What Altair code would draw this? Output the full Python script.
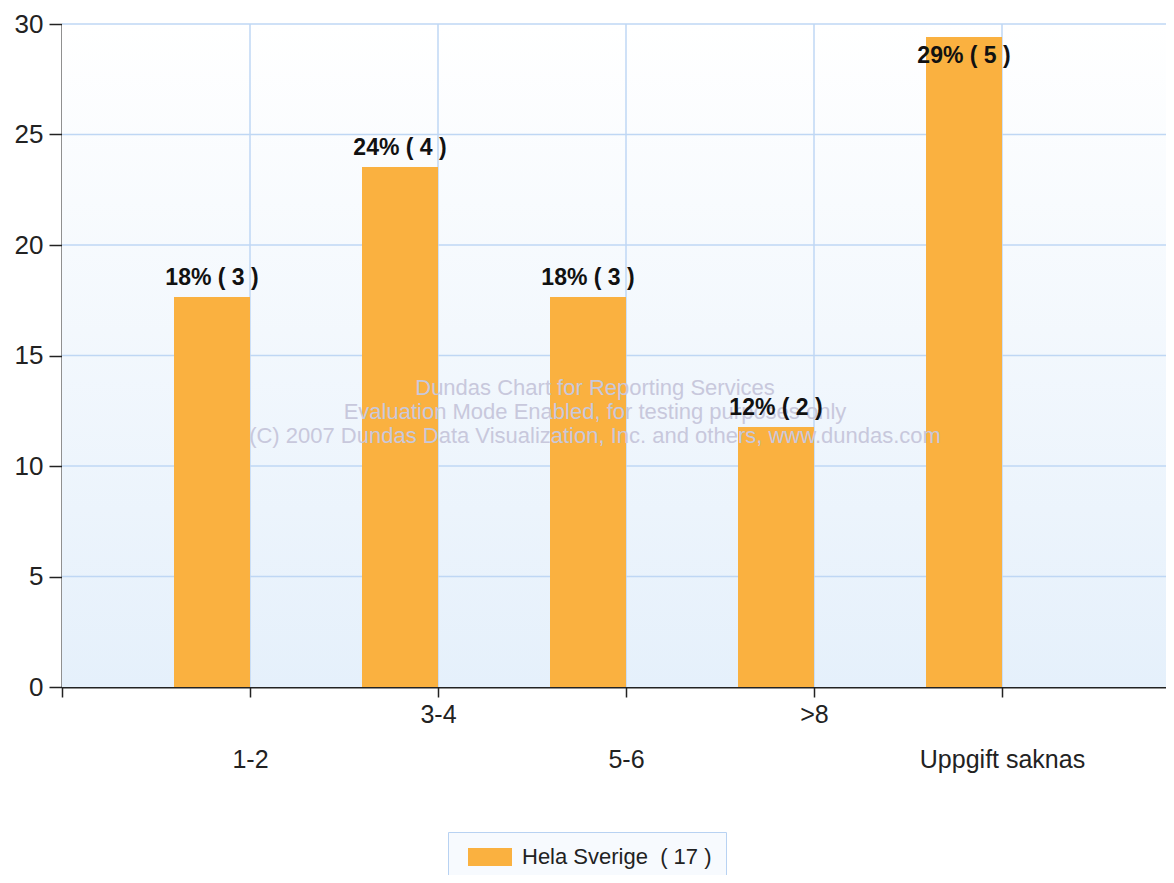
import json
import altair as alt
import pandas as pd

# ---- data ----
categories = ["1-2", "3-4", "5-6", ">8", "Uppgift saknas"]
percents = [17.65, 23.53, 17.65, 11.76, 29.41]
counts = [3, 4, 3, 2, 5]
pct_text = ["18%", "24%", "18%", "12%", "29%"]
series_name = "Hela Sverige\u00a0\u00a0( 17 )\u00a0\u00a0\u00a0"
y_ticks = [0, 5, 10, 15, 20, 25, 30]
watermark = [
    "Dundas Chart for Reporting Services",
    "Evaluation Mode Enabled, for testing purposes only",
    "(C) 2007 Dundas Data Visualization, Inc. and others, www.dundas.com",
]

# ---- layout / style ----
W, H = 1104, 663
STEP = 188.0            # pixel spacing between categories
BAR_W = 76.0 / STEP     # bar width in category units
FONT = "Liberation Sans"
BAR_COLOR = "#FAB140"
GRID_COLOR = "#BFD7F4"
AXIS_COLOR = "#222222"

df = pd.DataFrame({
    "category": categories,
    "pos": list(range(1, len(categories) + 1)),
    "value": percents,
    "label": [f"{p} ( {c} )" for p, c in zip(pct_text, counts)],
    "series": [series_name] * len(categories),
})

x_scale = alt.Scale(domain=[0, W / STEP], nice=False, zero=True)
y_scale = alt.Scale(domain=[0, 30], nice=False)

label_expr = f"datum.value >= 1 ? {json.dumps(categories)}[datum.value - 1] : ''"

x_axis = alt.Axis(
    values=list(range(0, len(categories) + 1)),
    labelExpr=label_expr,
    title=None,
    grid=False,
    domainColor=AXIS_COLOR,
    domainWidth=2,
    tickColor=AXIS_COLOR,
    tickWidth=1.5,
    tickSize=10,
    labelFont=FONT,
    labelFontSize=25,
    labelColor=AXIS_COLOR,
    labelPadding={"condition": {"test": "datum.value % 2 == 1", "value": 50}, "value": 5},
    labelFlush=False,
    labelOverlap=False,
)
y_axis = alt.Axis(
    values=y_ticks,
    title=None,
    grid=False,
    domainColor=AXIS_COLOR,
    domainWidth=2,
    tickColor=AXIS_COLOR,
    tickWidth=1.5,
    tickSize=13,
    labelFont=FONT,
    labelFontSize=26,
    labelColor=AXIS_COLOR,
    labelPadding=6,
)

# background gradient
bg = alt.Chart(alt.Data(values=[{"a": 1}])).mark_rect(
    fill={
        "gradient": "linear", "x1": 0, "y1": 0, "x2": 0, "y2": 1,
        "stops": [{"offset": 0, "color": "#FFFFFF"}, {"offset": 1, "color": "#E5F0FB"}],
    }
).encode(x=alt.value(0), x2=alt.value(W), y=alt.value(0), y2=alt.value(H))

hgrid = alt.Chart(pd.DataFrame({"t": y_ticks[1:]})).mark_rule(
    color=GRID_COLOR, strokeWidth=1.5
).encode(y=alt.Y("t:Q", scale=y_scale, axis=y_axis))

vgrid = alt.Chart(pd.DataFrame({"p": df["pos"]})).mark_rule(
    color=GRID_COLOR, strokeWidth=1.5
).encode(x=alt.X("p:Q", scale=x_scale, axis=x_axis))

base = alt.Chart(df).transform_calculate(
    start=f"datum.pos - {BAR_W}",
    mid=f"datum.pos - {BAR_W / 2}",
)

bars = base.mark_bar().encode(
    x=alt.X("start:Q", scale=x_scale, axis=x_axis),
    x2="pos:Q",
    y=alt.Y("value:Q", scale=y_scale, axis=y_axis),
    y2=alt.datum(0),
    color=alt.Color(
        "series:N",
        scale=alt.Scale(range=[BAR_COLOR]),
        legend=alt.Legend(
            title=None,
            orient="none",
            legendX=386,
            legendY=808,
            padding=14,
            strokeColor="#B8D2F2",
            fillColor="#F7FAFE",
            symbolType="M-0.4545,-0.818L3.545,-0.818L3.545,0.818L-0.4545,0.818Z",
            symbolSize=484,
            symbolStrokeWidth=0,
            symbolOpacity=1,
            labelOffset=38,
            labelFont=FONT,
            labelFontSize=22,
            labelColor=AXIS_COLOR,
            labelLimit=400,
        ),
    ),
)

label_kw = dict(font=FONT, fontWeight="bold", fontSize=23, baseline="alphabetic", color="#111111")
label_enc = dict(
    x=alt.X("mid:Q", scale=x_scale),
    y=alt.Y("value:Q", scale=y_scale),
    text="label:N",
)
labels_above = base.transform_filter("datum.value <= 27").mark_text(dy=-12, **label_kw).encode(**label_enc)
labels_inside = base.transform_filter("datum.value > 27").mark_text(dy=26, **label_kw).encode(**label_enc)

wm = alt.Chart(alt.Data(values=[{"t": "\n".join(watermark)}])).mark_text(
    font=FONT, fontSize=22, color="#C8C8DC", lineBreak="\n", lineHeight=24,
    baseline="middle", align="center",
).encode(x=alt.value(533), y=alt.value(364), text="t:N")

chart = alt.layer(bg, vgrid, hgrid, bars, wm, labels_above, labels_inside).properties(
    width=W,
    height=H,
    autosize=alt.AutoSizeParams(type="none"),
    padding={"left": 54, "top": 16, "right": 0, "bottom": 188},
).configure_view(stroke=None).configure(background="#FFFFFF")

chart.save("out.html", embed_options={"renderer": "svg", "actions": False})
